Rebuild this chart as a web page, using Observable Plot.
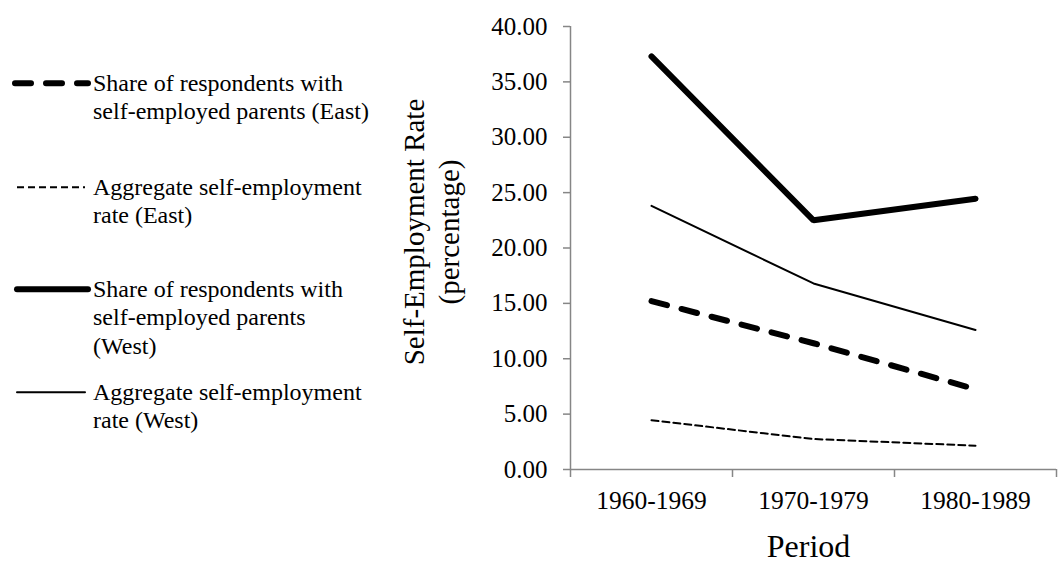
<!DOCTYPE html>
<html><head><meta charset="utf-8">
<script src="https://cdn.jsdelivr.net/npm/d3@7"></script>
<script src="https://cdn.jsdelivr.net/npm/@observablehq/plot@0.6"></script>
<style>
body{margin:0;background:#fff;font-family:"Liberation Serif","Times New Roman",serif;}
#wrap{position:relative;width:1059px;height:564px;overflow:hidden;}
#chart svg{overflow:visible;}
#legend{position:absolute;left:0;top:0;width:400px;height:564px;}
.item{position:absolute;left:0;width:400px;height:100px;}
.item svg{position:absolute;left:0;top:0;overflow:visible;}
.item .lab{position:absolute;left:93px;top:0;font-size:24px;line-height:28.5px;white-space:pre;color:#000;}
</style></head><body>
<div id="wrap"><div id="chart"></div><div id="legend"></div></div>
<script>
// ---- data ----
const periods = ["1960-1969", "1970-1979", "1980-1989"];
const seriesNames = [
  "Share of respondents with\nself-employed parents (East)",
  "Aggregate self-employment\nrate (East)",
  "Share of respondents with\nself-employed parents\n(West)",
  "Aggregate self-employment\nrate (West)"
];
const eastShare = [15.2, 11.4, 7.25];
const eastAggregate = [4.45, 2.75, 2.15];
const westShare = [37.3, 22.5, 24.45];
const westAggregate = [23.8, 16.8, 12.6];
const yTicks = [0, 5, 10, 15, 20, 25, 30, 35, 40];
const yLabel = "Self-Employment Rate\n(percentage)";
const xLabel = "Period";

// ---- styles (separate from data) ----
const styles = [
  {strokeWidth: 6, dash: "16,15"},
  {strokeWidth: 2, dash: "7,4"},
  {strokeWidth: 6, dash: null},
  {strokeWidth: 2, dash: null}
];
const seriesValues = [eastShare, eastAggregate, westShare, westAggregate];
const rows = seriesValues.flatMap((vals, s) => vals.map((v, i) => ({series: s, i, period: periods[i], value: v})));

const gray = "#868686";
const font = "Liberation Serif, Times New Roman, serif";

const lineMarks = styles.map((st, s) => Plot.line(rows.filter(d => d.series === s), {
  x: d => periods.indexOf(d.period), y: "value",
  stroke: "#000", strokeWidth: st.strokeWidth,
  strokeDasharray: st.dash, strokeLinecap: "round", strokeLinejoin: st.dash ? "round" : "miter"
}));

const boundaries = periods.map((p, i) => i - 0.5).concat([periods.length - 0.5]);

const chart = Plot.plot({
  width: 1059, height: 564,
  marginLeft: 570, marginRight: 3, marginTop: 26, marginBottom: 95,
  style: {fontFamily: font, background: "#fff", color: "#000", overflow: "visible"},
  x: {domain: [-0.5, periods.length - 0.5], axis: null},
  y: {domain: [0, 40], axis: null},
  marks: [
    Plot.axisY({ticks: yTicks, tickFormat: d => d.toFixed(2), tickSize: 7, tickPadding: 16,
      stroke: gray, fill: "#000", fontSize: 25, strokeWidth: 1.5, label: null}),
    Plot.axisX({ticks: boundaries, tickFormat: () => "", tickSize: 8, stroke: gray, strokeWidth: 1.5, label: null}),
    Plot.axisX({ticks: periods.map((p, i) => i), tickFormat: i => periods[i], tickSize: 0, tickPadding: 21,
      fill: "#000", fontSize: 25.5, label: null}),
    Plot.ruleX([-0.5], {stroke: gray, strokeWidth: 1.5}),
    Plot.ruleY([0], {stroke: gray, strokeWidth: 1.5}),
    ...lineMarks,
    Plot.text([yLabel], {text: d => d, frameAnchor: "left", textAnchor: "middle", lineAnchor: "middle",
      rotate: -90, dx: -140.5, dy: -16, fontSize: 29, lineHeight: 1.2, fill: "#000"}),
    Plot.text([xLabel], {text: d => d, frameAnchor: "bottom", dx: -5, dy: 87, fontSize: 32, fill: "#000"})
  ]
});
document.getElementById("chart").appendChild(chart);

// ---- legend ----
const legendTops = [68.75, 172.75, 274.75, 377.75];
const legendX = [[15, 88], [17, 85], [17, 88], [17, 85]];
const legend = d3.select("#legend");
seriesNames.forEach((name, s) => {
  const item = legend.append("div").attr("class", "item").style("top", legendTops[s] + "px");
  const svg = item.append("svg").attr("width", 95).attr("height", 30);
  svg.append("line")
    .attr("x1", legendX[s][0]).attr("x2", legendX[s][1]).attr("y1", 14.25).attr("y2", 14.25)
    .attr("stroke", "#000").attr("stroke-width", styles[s].strokeWidth)
    .attr("stroke-dasharray", styles[s].dash)
    .attr("stroke-linecap", styles[s].dash && styles[s].strokeWidth < 3 ? "butt" : "round");
  item.append("div").attr("class", "lab").text(name);
});
</script>
</body></html>
